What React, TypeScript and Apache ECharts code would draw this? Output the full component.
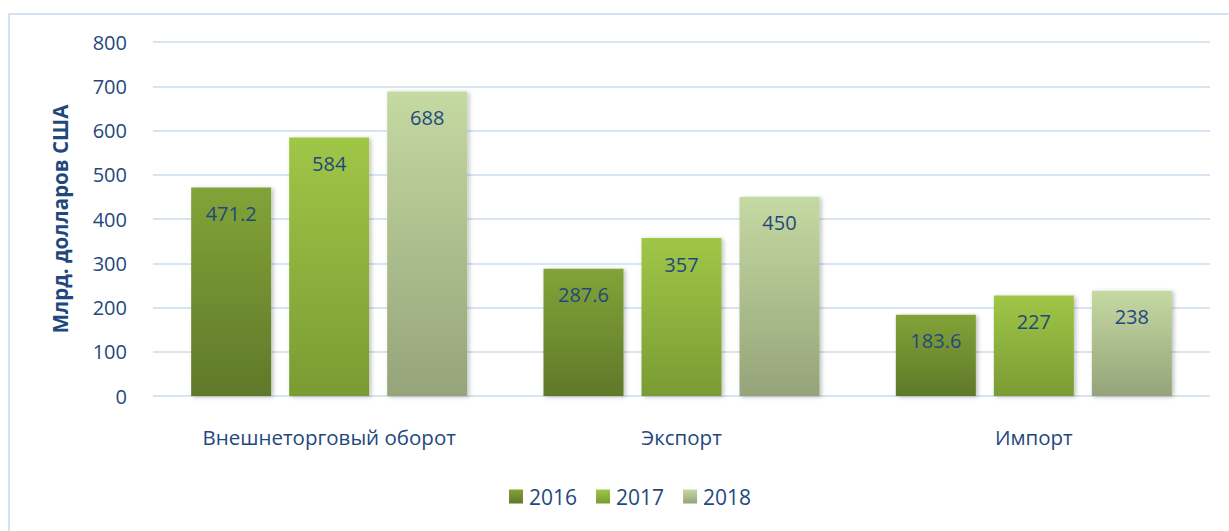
import React, { useEffect, useRef } from "react";
import * as echarts from "echarts";

const categories = ["Внешнеторговый оборот", "Экспорт", "Импорт"];
const years = ["2016", "2017", "2018"];
const values2016 = [471.2, 287.6, 183.6];
const values2017 = [584, 357, 227];
const values2018 = [688, 450, 238];
const yTicks = [0, 100, 200, 300, 400, 500, 600, 700, 800];
const yTitle = "Млрд. долларов США";

const gradients = [
  ["#82a338", "#5e792a"],
  ["#a0c647", "#7a9b33"],
  ["#c5d9a2", "#95a479"],
];

const textColor = "#1f497d";
const font = "'Open Sans', 'Noto Sans', sans-serif";

export default function App() {
  const ref = useRef<HTMLDivElement>(null);
  useEffect(() => {
    document.body.style.margin = "0";
    const chart = echarts.init(ref.current!, undefined, { renderer: "svg" });
    const seriesData = [values2016, values2017, values2018];
    chart.setOption({
      animation: false,
      textStyle: { fontFamily: font },
      graphic: [
        {
          type: "rect",
          shape: { x: 9, y: 14, width: 1260, height: 600 },
          style: { fill: "none", stroke: "#d5e2f2", lineWidth: 2 },
          silent: true,
        },
      ],
      grid: { left: 153, right: 19, top: 42, bottom: 135 },
      legend: {
        bottom: 19,
        left: 504,
        itemWidth: 14,
        itemHeight: 14,
        itemGap: 19,
        icon: "rect",
        textStyle: { color: textColor, fontSize: 21, fontFamily: font, padding: [0, 0, 0, 1] },
        data: years,
      },
      xAxis: {
        type: "category",
        data: categories,
        axisLine: { show: false },
        axisTick: { show: false },
        axisLabel: { color: textColor, fontSize: 20.5, margin: 30, fontFamily: font },
      },
      yAxis: {
        type: "value",
        min: yTicks[0],
        max: yTicks[yTicks.length - 1],
        interval: 100,
        name: yTitle,
        nameLocation: "middle",
        nameGap: 83,
        nameTextStyle: { color: textColor, fontSize: 20.5, fontWeight: "bold", fontFamily: font },
        axisLabel: { color: textColor, fontSize: 20, margin: 26, fontFamily: font },
        splitLine: { lineStyle: { color: "#d9e4f2", width: 2 } },
      },
      series: years.map((y, i) => ({
        name: y,
        type: "bar",
        data: seriesData[i],
        barWidth: 80,
        barGap: "22.5%",
        itemStyle: {
          color: new echarts.graphic.LinearGradient(0, 0, 0, 1, [
            { offset: 0, color: gradients[i][0] },
            { offset: 1, color: gradients[i][1] },
          ]),
          shadowBlur: 4,
          shadowOffsetX: 2,
          shadowOffsetY: 1,
          shadowColor: "rgba(0,0,0,0.25)",
        },
        label: {
          show: true,
          position: "insideTop",
          distance: 16,
          color: textColor,
          fontSize: 20,
          fontFamily: font,
        },
      })),
    });
    return () => chart.dispose();
  }, []);
  return <div ref={ref} style={{ width: 1229, height: 531 }} />;
}
